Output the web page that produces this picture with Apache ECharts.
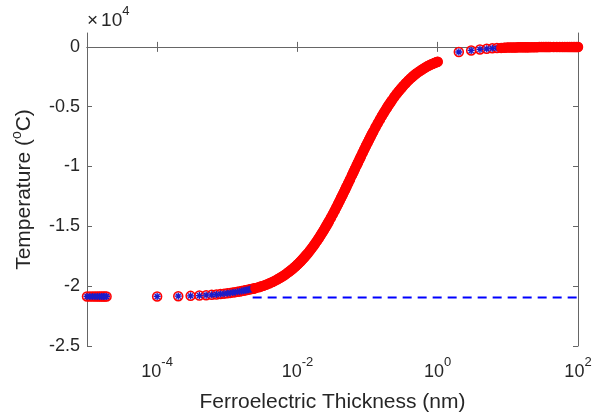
<!DOCTYPE html>
<html><head><meta charset="utf-8">
<script src="https://cdn.jsdelivr.net/npm/echarts@6/dist/echarts.min.js"></script>
<style>html,body{margin:0;padding:0;background:#fff}#c{width:602px;height:418px}</style>
</head><body><div id="c"></div>
<script>
// ---- data (thickness in nm, temperature in °C) ----
const clusterX = [1.0e-5, 1.1e-5, 1.2e-5, 1.3e-5, 1.4e-5, 1.5e-5, 1.6e-5, 1.7e-5, 1.8e-5, 1.9e-5];
const clusterY = [-20860, -20860, -20860, -20860, -20860, -20860, -20860, -20860, -20860, -20860];

const lowX = [1e-4, 2e-4, 3e-4, 4e-4, 5e-4, 6e-4, 7e-4, 8e-4, 9e-4, 1.0e-3, 1.1e-3, 1.2e-3, 1.3e-3, 1.4e-3, 1.5e-3, 1.6e-3, 1.7e-3, 1.8e-3, 1.9e-3, 2.0e-3, 2.1e-3, 2.2e-3, 2.3e-3, 2.4e-3];
const lowY = [-20860, -20835, -20810, -20785, -20755, -20725, -20695, -20660, -20625, -20590, -20560, -20530, -20500, -20470, -20440, -20410, -20380, -20350, -20320, -20290, -20265, -20240, -20215, -20190];

const bandX = [0.0025, 0.0028, 0.003, 0.0033, 0.0036, 0.004, 0.0044, 0.0048, 0.0052, 0.0056, 0.006, 0.0065, 0.007, 0.0075, 0.008, 0.0085, 0.009, 0.0095, 0.01, 0.0105, 0.011, 0.0115, 0.012, 0.0125, 0.013, 0.0135, 0.014, 0.015, 0.016, 0.017, 0.018, 0.019, 0.02, 0.021, 0.022, 0.023, 0.024, 0.025, 0.026, 0.027, 0.028, 0.03, 0.032, 0.034, 0.036, 0.038, 0.04, 0.042, 0.044, 0.046, 0.048, 0.05, 0.053, 0.056, 0.06, 0.063, 0.066, 0.07, 0.073, 0.077, 0.08, 0.085, 0.09, 0.095, 0.1, 0.105, 0.11, 0.115, 0.12, 0.13, 0.14, 0.15, 0.16, 0.17, 0.18, 0.19, 0.2, 0.21, 0.22, 0.24, 0.26, 0.28, 0.3, 0.32, 0.35, 0.38, 0.41, 0.44, 0.47, 0.5, 0.55, 0.6, 0.65, 0.7, 0.75, 0.8, 0.85, 0.9, 0.95, 1.0];
const bandY = [-20165, -20090, -20035, -19955, -19872, -19759, -19649, -19538, -19429, -19322, -19213, -19081, -18950, -18818, -18693, -18565, -18438, -18317, -18193, -18071, -17953, -17831, -17714, -17599, -17485, -17376, -17259, -17044, -16826, -16617, -16415, -16214, -16017, -15827, -15636, -15457, -15279, -15101, -14932, -14764, -14597, -14282, -13975, -13683, -13404, -13128, -12868, -12616, -12376, -12137, -11918, -11697, -11391, -11097, -10720, -10460, -10199, -9889, -9669, -9385, -9178, -8854, -8555, -8264, -8007, -7763, -7528, -7302, -7105, -6711, -6376, -6063, -5777, -5521, -5288, -5067, -4861, -4686, -4508, -4193, -3922, -3684, -3476, -3287, -3040, -2822, -2635, -2474, -2329, -2210, -2040, -1890, -1760, -1650, -1560, -1480, -1410, -1345, -1290, -1240];

const highSparseX = [2, 3, 4, 5, 6, 7];
const highSparseY = [-430, -300, -215, -160, -125, -100];

const highDenseX = [8, 9, 10, 11, 12, 13, 14, 15, 16, 17, 18, 19, 20, 22, 24, 26, 28, 30, 32, 34, 36, 38, 40, 45, 50, 55, 60, 65, 70, 75, 80, 85, 90, 95, 100];
const highDenseY = [-85, -72, -62, -55, -50, -45, -41, -38, -35, -33, -31, -29, -27, -25, -23, -21, -19, -18, -17, -16, -15, -14, -13, -12, -11, -10, -9, -8, -8, -7, -7, -6, -6, -6, -5];

const refX = [0.0023, 100];
const refY = [-20950, -20950];

const xTickValues = [1e-4, 1e-2, 1, 100];
const yTickValues = [-25000, -20000, -15000, -10000, -5000, 0];

// ---- build ----
const pairs = (xs, ys) => xs.map((x, i) => [x, ys[i]]);
const allPts = [].concat(pairs(clusterX, clusterY), pairs(lowX, lowY), pairs(bandX, bandY), pairs(highSparseX, highSparseY), pairs(highDenseX, highDenseY));
const FONT = 'Liberation Sans, Arial, sans-serif';
const TXT = '#262626';
const AX = '#666666';

const chart = echarts.init(document.getElementById('c'), null, {renderer: 'canvas'});
const xLabelFmt = v => { const e = Math.round(Math.log10(v)); return '{b|10}{s|' + e + '}'; };
const xRich = {
  b: {fontSize: 18, fontFamily: FONT, color: TXT, lineHeight: 32},
  s: {fontSize: 13, fontFamily: FONT, color: TXT, verticalAlign: 'top', lineHeight: 13}
};
const starPath = 'path://M5,0L5,10M0,5L10,5M1.5,1.5L8.5,8.5M1.5,8.5L8.5,1.5';

chart.setOption({
  animation: false,
  backgroundColor: '#fff',
  grid: {left: 87, right: 24, top: 33, bottom: 69, containLabel: false},
  graphic: [{
    type: 'text', left: 87, top: 5,
    style: {text: '×{b|10}{s|4}', fill: TXT, font: '19px ' + FONT, lineHeight: 32,
      rich: {
        b: {fontSize: 19, fontFamily: FONT, fill: TXT, lineHeight: 32, padding: [0, 0, 0, 3]},
        s: {fontSize: 13, fontFamily: FONT, fill: TXT, verticalAlign: 'top', lineHeight: 13}
      }}
  }],
  xAxis: [{
    type: 'log', logBase: 10, min: 1e-5, max: 100, position: 'bottom',
    axisLine: {lineStyle: {color: AX, width: 1}},
    axisTick: {inside: true, length: 5, customValues: xTickValues, lineStyle: {color: AX}},
    minorTick: {show: false}, splitLine: {show: false},
    axisLabel: {customValues: xTickValues, formatter: xLabelFmt, rich: xRich, margin: 10},
    name: 'Ferroelectric Thickness (nm)', nameLocation: 'middle', nameGap: 46,
    nameTextStyle: {fontSize: 21, fontFamily: FONT, color: TXT}
  }, {
    type: 'log', logBase: 10, min: 1e-5, max: 100, position: 'top',
    axisLine: {lineStyle: {color: AX, width: 1}},
    axisTick: {inside: true, length: 5, customValues: xTickValues, lineStyle: {color: AX}},
    axisLabel: {show: false}, splitLine: {show: false}
  }],
  yAxis: [{
    type: 'value', min: -25000, max: 1160, position: 'left',
    axisLine: {show: true, lineStyle: {color: AX, width: 1}},
    axisTick: {show: true, inside: true, length: 5, customValues: yTickValues, lineStyle: {color: AX}},
    splitLine: {show: false},
    axisLabel: {customValues: yTickValues, formatter: v => String(v / 10000), fontSize: 18, fontFamily: FONT, color: TXT, margin: 7},
    name: 'Temperature ({s|o}C)', nameLocation: 'middle', nameGap: 44,
    nameTextStyle: {fontSize: 21, fontFamily: FONT, color: TXT, lineHeight: 28,
      rich: {s: {fontSize: 14, fontFamily: FONT, color: TXT, verticalAlign: 'top', lineHeight: 14}}}
  }, {
    type: 'value', min: -25000, max: 1160, position: 'right',
    axisLine: {show: true, lineStyle: {color: AX, width: 1}},
    axisTick: {show: true, inside: true, length: 5, customValues: yTickValues, lineStyle: {color: AX}},
    axisLabel: {show: false}, splitLine: {show: false}
  }],
  series: [{
    type: 'line', data: pairs(refX, refY), showSymbol: false, symbol: 'none', z: 1,
    lineStyle: {color: '#0000ff', width: 2, type: [9, 6]}
  }, {
    type: 'scatter', data: allPts, symbol: 'circle', symbolSize: 9, z: 2,
    itemStyle: {color: 'rgba(200,170,235,0.35)', borderColor: '#ff0000', borderWidth: 1.5, opacity: 1}
  }, {
    type: 'scatter', data: allPts, symbol: starPath, symbolSize: 7, z: 3,
    itemStyle: {color: 'none', borderColor: '#1c1cc8', borderWidth: 1.3, opacity: 1}
  }, {
    type: 'line', data: pairs(bandX, bandY), showSymbol: false, symbol: 'none', z: 4,
    lineStyle: {color: '#ff0000', width: 10, cap: 'round', join: 'round'}
  }, {
    type: 'line', data: pairs(highDenseX, highDenseY), showSymbol: false, symbol: 'none', z: 4,
    lineStyle: {color: '#ff0000', width: 10, cap: 'round', join: 'round'}
  }]
});
</script>
</body></html>
